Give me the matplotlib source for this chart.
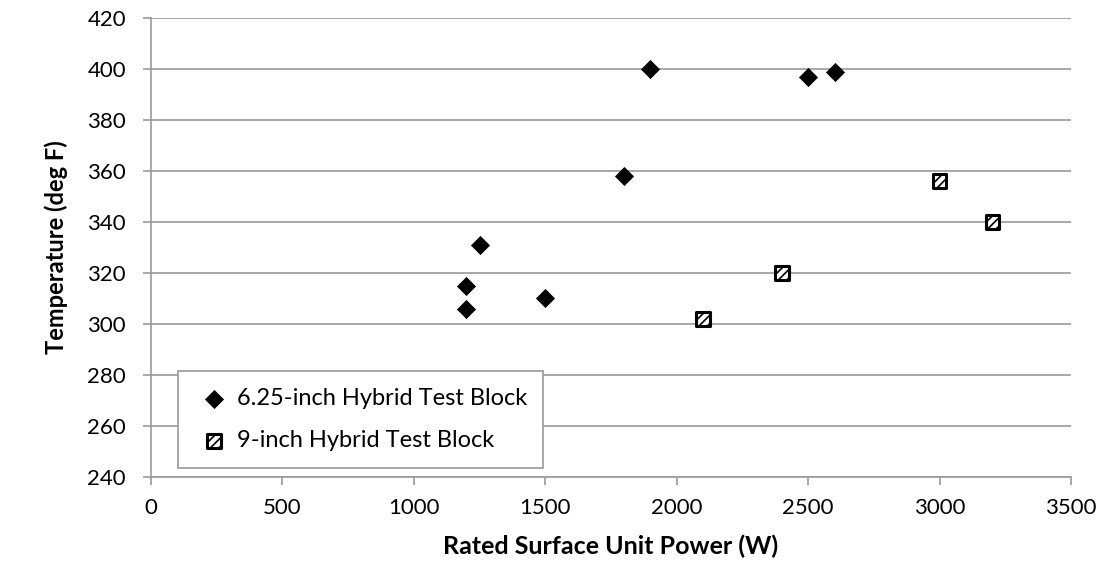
import matplotlib.pyplot as plt

plt.rcParams['font.family'] = ['Lato', 'DejaVu Sans']
plt.rcParams['hatch.linewidth'] = 1.2

# 6.25-inch hybrid test block
power_small = [1200, 1200, 1250, 1500, 1800, 1900, 2500, 2600]
temp_small = [306, 315, 331, 310, 358, 400, 397, 399]

# 9-inch hybrid test block
power_large = [2100, 2400, 3000, 3200]
temp_large = [302, 320, 356, 340]

xticks = [0, 500, 1000, 1500, 2000, 2500, 3000, 3500]
yticks = [240, 260, 280, 300, 320, 340, 360, 380, 400, 420]

fig = plt.figure(figsize=(11.02, 5.65), dpi=100)
ax = fig.add_axes([0.137, 0.156, 0.835, 0.812])

grid_col = '#9a9a9a'
ax.set_axisbelow(True)
ax.grid(axis='y', color=grid_col, linewidth=1.2)

ax.scatter(power_small, temp_small, marker='D', s=95, color='black',
           linewidths=0, label='6.25-inch Hybrid Test Block', zorder=3)
ax.scatter(power_large, temp_large, marker='s', s=95, facecolor='white',
           edgecolor='black', linewidths=2.2, hatch='////',
           label='9-inch Hybrid Test Block', zorder=3)

ax.set_xlim(0, 3500)
ax.set_ylim(240, 420)
ax.set_xticks(xticks)
ax.set_yticks(yticks)

for side in ['top', 'right']:
    ax.spines[side].set_visible(False)
for side in ['left', 'bottom']:
    ax.spines[side].set_color(grid_col)
    ax.spines[side].set_linewidth(1.2)

ax.tick_params(axis='both', colors=grid_col, labelcolor='black', labelsize=16,
               width=1.2, length=6, direction='out')
ax.tick_params(axis='x', pad=9)
ax.tick_params(axis='y', pad=12)

ax.set_xlabel('Rated Surface Unit Power (W)', fontsize=18, fontweight='bold', labelpad=12)
ax.set_ylabel('Temperature (deg F)', fontsize=17, fontweight='bold', labelpad=14)

leg = ax.legend(loc='lower left', bbox_to_anchor=(0.029, 0.02), fontsize=17,
                frameon=True, fancybox=False, handlelength=1.7, handletextpad=0.1,
                labelspacing=0.9, borderpad=0.7, borderaxespad=0)
leg.get_frame().set_edgecolor(grid_col)
leg.get_frame().set_linewidth(1.2)
leg.get_frame().set_alpha(1)

fig.savefig('out.png', dpi=100)
